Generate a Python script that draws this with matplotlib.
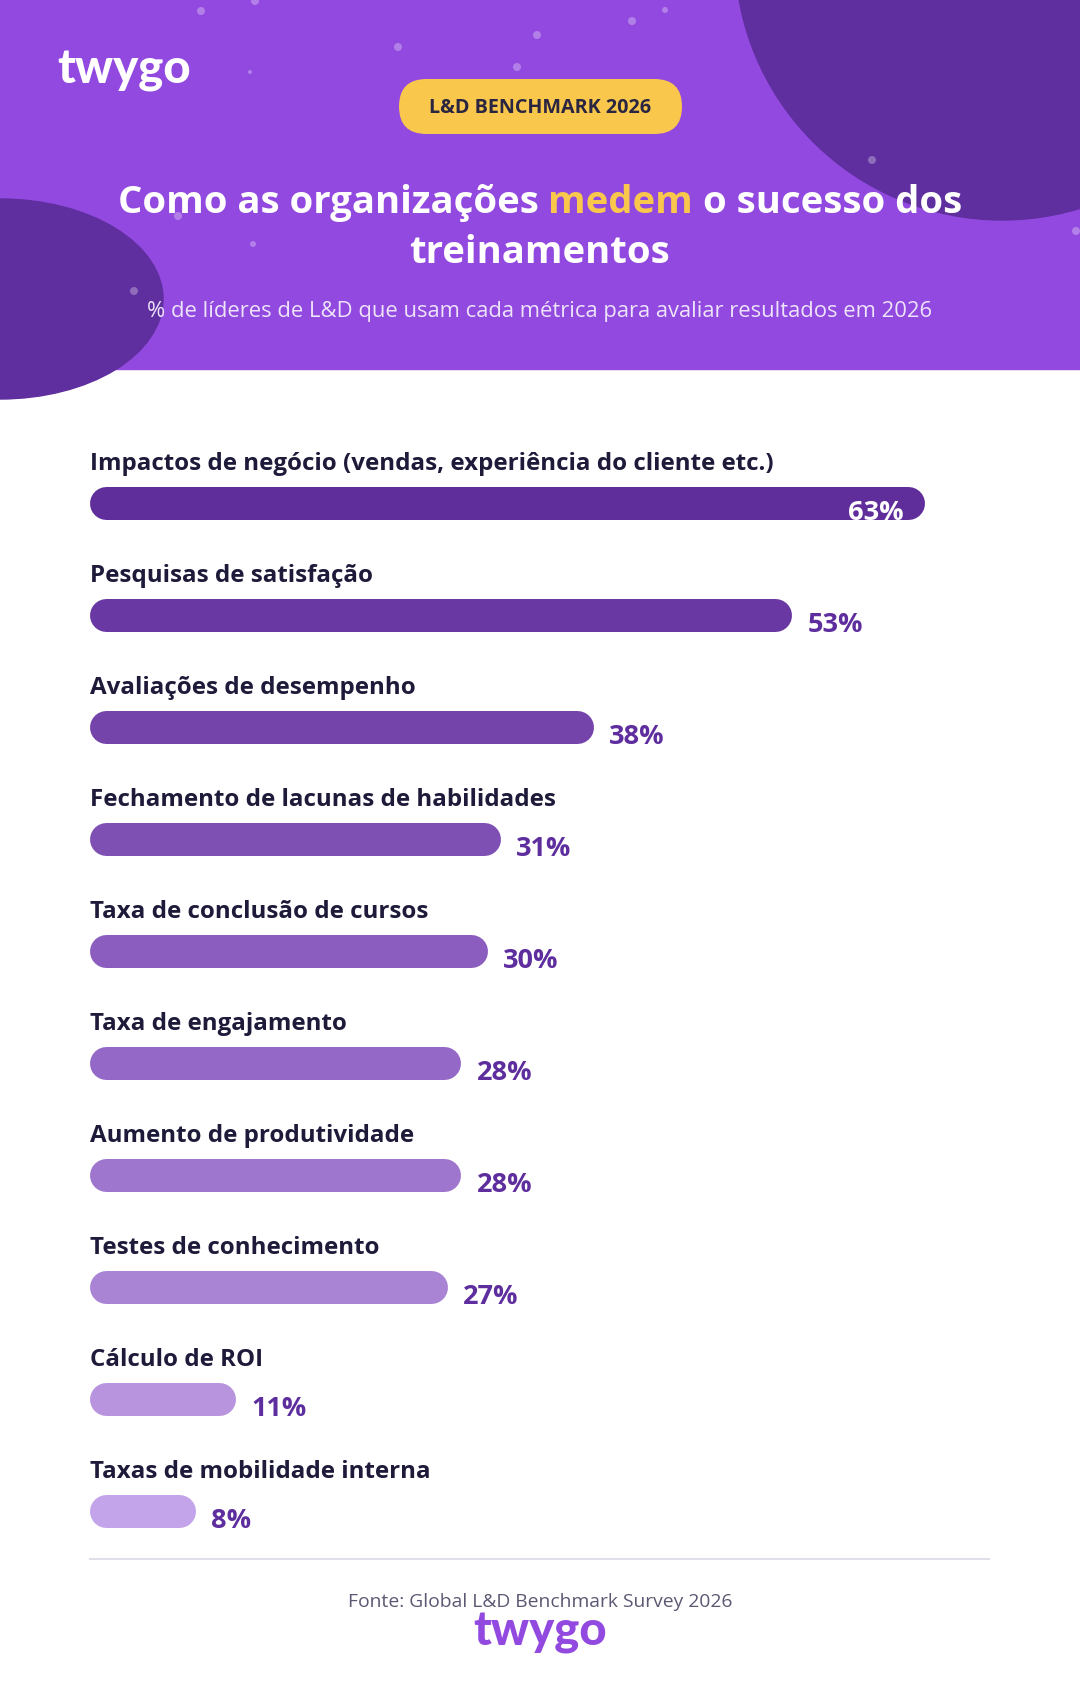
import matplotlib.pyplot as plt
from matplotlib.patches import Rectangle, Circle, Ellipse, FancyBboxPatch

# data
categories = [
    'Impactos de negócio (vendas, experiência do cliente etc.)',
    'Pesquisas de satisfação',
    'Avaliações de desempenho',
    'Fechamento de lacunas de habilidades',
    'Taxa de conclusão de cursos',
    'Taxa de engajamento',
    'Aumento de produtividade',
    'Testes de conhecimento',
    'Cálculo de ROI',
    'Taxas de mobilidade interna',
]
values = [63, 53, 38, 31, 30, 28, 28, 27, 11, 8]
value_labels = [f'{v}%' for v in values]

bar_colors = ['#5F2E9B', '#6A38A3', '#7444AB', '#7E50B3', '#8A5DBF',
              '#9468C6', '#9F76CD', '#A984D5', '#B894DF', '#C3A4EA']

title_parts = ['Como as organizações ', 'medem', ' o sucesso dos']
title_line2 = 'treinamentos'
subtitle = '% de líderes de L&D que usam cada métrica para avaliar resultados em 2026'
badge = 'L&D BENCHMARK 2026'
source = 'Fonte: Global L&D Benchmark Survey 2026'
logo = 'twygo'

PURPLE = '#9249DF'
DARK = '#5F2E9F'
NAVY = '#1E1B3A'
YELLOW = '#F8C74C'

plt.rcParams['font.family'] = ['Open Sans', 'DejaVu Sans']
LOGO_FONT = ['Lato', 'DejaVu Sans']

W, H = 1080, 1690
fig = plt.figure(figsize=(W / 100, H / 100), dpi=100)
fig.patch.set_facecolor('white')

# background layer in pixel units
bg = fig.add_axes([0, 0, 1, 1])
bg.set_xlim(0, W)
bg.set_ylim(H, 0)
bg.axis('off')

bg.add_patch(Rectangle((0, 0), W, 370, color=PURPLE, zorder=1))
bg.add_patch(Circle((1002, -46), 267, color=DARK, zorder=2))
bg.add_patch(Ellipse((0, 300), 326, 200, color=DARK, zorder=2))

dots = [(201, 12, 4), (255, 2, 4), (398, 48, 4), (537, 36, 4), (517, 68, 4),
        (632, 22, 4), (665, 11, 3), (250, 73, 2), (872, 161, 4), (178, 217, 4),
        (253, 245, 3), (134, 292, 4), (1076, 232, 4)]
for x, y, r in dots:
    bg.add_patch(Circle((x, y), r, color='white', alpha=0.3, lw=0, zorder=3))

# logo top
bg.text(57, 70, logo, color='white', fontsize=34, fontweight='black',
        family=LOGO_FONT, ha='left', va='center', zorder=5)

# badge
bg.add_patch(FancyBboxPatch((399, 80), 283, 55, boxstyle='round,pad=0,rounding_size=27.5',
                            fc=YELLOW, ec='none', zorder=4))
bg.text(540, 113, badge, ha='center', va='baseline', fontsize=14.2,
        fontweight='bold', color='#2A2540', zorder=5)

# title with highlighted word
renderer = fig.canvas.get_renderer()


def text_w(s, **kw):
    t = bg.text(0, 0, s, **kw)
    w = t.get_window_extent(renderer).width
    t.remove()
    return w


tkw = dict(fontsize=27.5, fontweight='bold')
full = ''.join(title_parts)
total = text_w(full, **tkw)
x0 = 540 - total / 2
x_med = x0 + text_w(title_parts[0] + title_parts[1], **tkw) - text_w(title_parts[1], **tkw)
p3 = title_parts[2].strip()
x_p3 = x0 + total - text_w(p3, **tkw)
bg.text(x0, 213, title_parts[0].strip(), color='white', ha='left', va='baseline', zorder=5, **tkw)
bg.text(x_med, 213, title_parts[1], color=YELLOW, ha='left', va='baseline', zorder=5, **tkw)
bg.text(x_p3, 213, p3, color='white', ha='left', va='baseline', zorder=5, **tkw)
bg.text(540, 263, title_line2, color='white', ha='center', va='baseline', zorder=5, **tkw)

bg.text(540, 317, subtitle, color='#EDE3FA', ha='center', va='baseline',
        fontsize=15.8, zorder=5)

# separator + footer
bg.plot([89.5, 989], [1560, 1560], color='#E2DFEA', lw=1.5, zorder=2)
bg.text(540, 1602, source, ha='center', va='center', fontsize=13.9, color='#5C5873')
bg.text(540, 1632, logo, ha='center', va='center', fontsize=34,
        fontweight='black', family=LOGO_FONT, color=PURPLE)

# bar chart axes
px0 = 89.5        # pixel of 0%
ppu = 13.25       # pixels per percent
xmax = 70
top_px, bot_px = 448, 1568
ax = fig.add_axes([px0 / W, 1 - bot_px / H, ppu * xmax / W, (bot_px - top_px) / H])
ax.set_xlim(0, xmax)
ax.set_ylim(len(values) - 0.5, -0.5)
ax.axis('off')
ax.patch.set_alpha(0)

bar_px = 33
lw = bar_px * 0.72
r = bar_px / 2 / ppu
vmax = max(values)
for i, (cat, v, lab, c) in enumerate(zip(categories, values, value_labels, bar_colors)):
    ax.plot([r, v - r], [i, i], lw=lw, color=c, solid_capstyle='round', clip_on=False)
    ax.annotate(cat, (0, i), xytext=(0, 34 * 0.72), textcoords='offset points',
                ha='left', va='baseline', fontsize=17.4, fontweight='bold', color=NAVY)
    if v == vmax:
        ax.annotate(lab, (v, i), xytext=(-21 * 0.72, -16 * 0.72), textcoords='offset points',
                    ha='right', va='baseline', fontsize=19.5, fontweight='bold', color='white')
    else:
        ax.annotate(lab, (v, i), xytext=(16 * 0.72, -16 * 0.72), textcoords='offset points',
                    ha='left', va='baseline', fontsize=19.5, fontweight='bold', color='#5E2E9E')

plt.savefig('out.png', dpi=100)
